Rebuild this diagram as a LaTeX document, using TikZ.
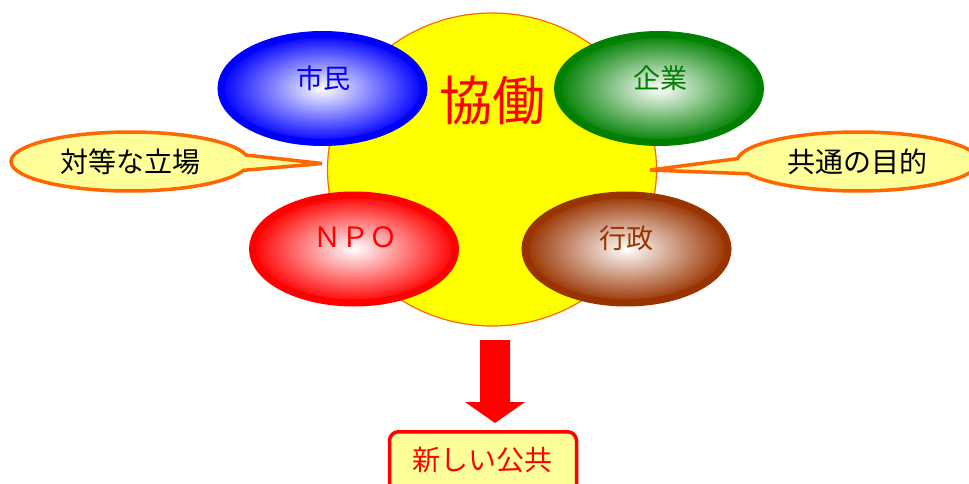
\documentclass[tikz,border=0pt]{standalone}
\usepackage{fontspec}
\setmainfont{Noto Sans CJK JP}
\usetikzlibrary{shapes.geometric,shapes.callouts,calc}
\definecolor{cyel}{HTML}{FFFF00}
\definecolor{corange}{HTML}{FF6600}
\definecolor{clight}{HTML}{FFFF99}
\definecolor{cgreen}{HTML}{008000}
\definecolor{cbrown}{HTML}{993300}
\tikzset{
  member/.style={ellipse, inner sep=0pt, line width=7pt, minimum width=203pt, minimum height=108pt},
  memtext/.style={font=\fontsize{27}{30}\selectfont, inner sep=0pt},
  bubble/.style={ellipse callout, draw=corange, fill=clight, line width=3.5pt, minimum width=238pt, minimum height=59pt, inner sep=0pt, callout pointer arc=30, font=\fontsize{28}{30}\selectfont},
}
\begin{document}
\begin{tikzpicture}[x=1pt,y=-1pt]
\clip (0,0) rectangle (969,484);
\fill[white] (0,0) rectangle (969,484);
% central circle
\node[ellipse, draw=corange, line width=1.2pt, fill=cyel, minimum width=329pt, minimum height=313pt, inner sep=0pt] (core) at (492,169.5) {};
\node[text=red, font=\fontsize{53}{58}\selectfont, inner sep=0pt] (kyodo) at (492.5,100) {協働};
% members
\node[member, draw=blue, inner color=white, outer color=blue] (shimin) at (322.5,88.5) {};
\node[memtext, text=blue] (shimint) at (323,78) {市民};
\node[member, draw=cgreen, inner color=white, outer color=cgreen] (kigyo) at (659,88.5) {};
\node[memtext, text=cgreen] (kigyot) at (660,78) {企業};
\node[member, draw=red, inner color=white, outer color=red] (npo) at (354,249) {};
\node[memtext, text=red, font=\fontsize{28}{30}\selectfont] (npot) at (355,237) {ＮＰＯ};
\node[member, draw=cbrown, inner color=white, outer color=cbrown] (gyosei) at (626.5,249) {};
\node[memtext, text=cbrown] (gyoseit) at (626,238) {行政};
% callouts
\coordinate (tipL) at (322,163.5);
\coordinate (tipR) at (650,170);
\node[bubble, callout absolute pointer={(tipL)}] (taito) at (130,161.5) {対等な立場};
\node[bubble, minimum width=242pt, callout absolute pointer={(tipR)}] (kyotsu) at (858,161.5) {};
\node[font=\fontsize{28}{30}\selectfont, inner sep=0pt] (kyotsut) at (857,162) {共通の目的};
% result box
\node[draw=red, line width=3.5pt, fill=clight, rounded corners=9pt, minimum width=187pt, minimum height=70pt, anchor=north] (box) at (483,430) {};
\node[text=red, font=\fontsize{28}{30}\selectfont, inner sep=0pt] (boxtext) at (482.5,460) {新しい公共};
% block arrow
\coordinate (atop) at (495,340);
\coordinate (atip) at (495,423);
\fill[red] ($(atop)+(-15,0)$) -- ($(atop)+(15,0)$) -- ($(atop)+(15,62)$) -- ($(atop)+(30,62)$) -- (atip) -- ($(atop)+(-30,62)$) -- ($(atop)+(-15,62)$) -- cycle;
\end{tikzpicture}
\end{document}
